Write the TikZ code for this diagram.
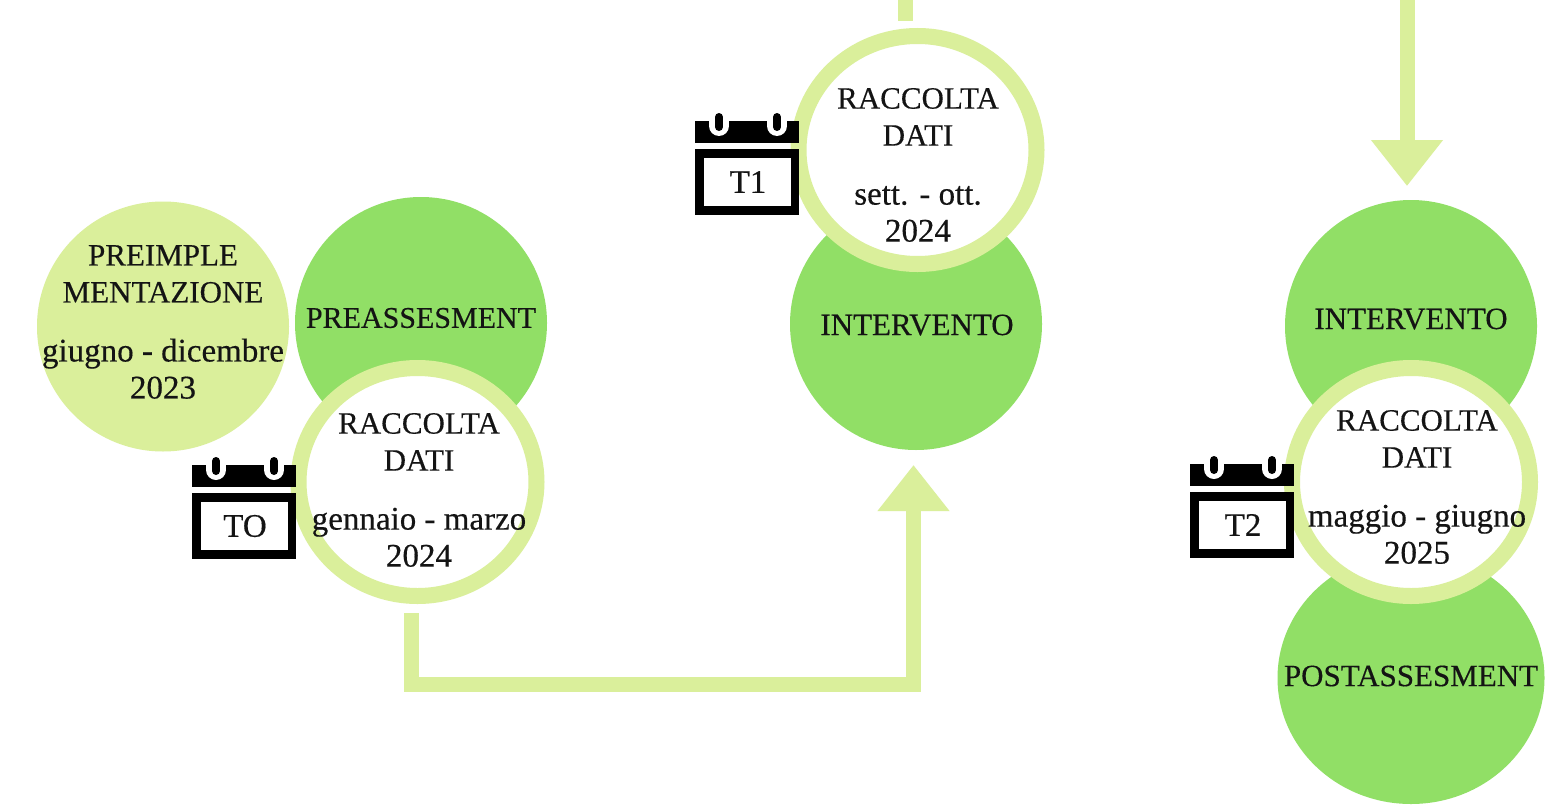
\documentclass[tikz,border=0pt]{standalone}
\usepackage{fontspec}
\setmainfont[FakeBold=0.35]{Liberation Serif}
\usetikzlibrary{shapes.geometric,arrows.meta}
\definecolor{dgreen}{HTML}{91DF66}
\definecolor{lgreen}{HTML}{DAEF9B}
\definecolor{ink}{HTML}{141414}
\newcommand{\lw}[1]{{\fontsize{33}{37}\selectfont #1}}
\tikzset{
  disc/.style={shape=ellipse,fill=dgreen,inner sep=0pt,outer sep=0pt,minimum width=#1,minimum height=252pt},
  lightdisc/.style={shape=ellipse,fill=lgreen,inner sep=0pt,outer sep=0pt,minimum width=252pt,minimum height=250pt},
  ringdisc/.style={shape=ellipse,draw=lgreen,fill=white,line width=16pt,inner sep=0pt,outer sep=0pt,minimum width=238pt,minimum height=228pt},
  lab/.style={align=center,inner sep=0pt,text=ink,font=\fontsize{31}{37}\selectfont},
  flow/.style={draw=lgreen,line width=15pt,line join=miter,line cap=butt},
  flowhead/.style={flow,-{Triangle[length=46pt,width=69pt]}},
  calicon/.pic={
    \fill[black] (0,0) rectangle (104,22);
    \fill[black] (0,28) rectangle (104,94);
    \fill[white] (9,37) rectangle (96,85);
    \foreach \px in {24,82}{
      \draw[white,line width=20pt,line cap=round] (\px,0) -- (\px,5);
      \draw[black,line width=8pt,line cap=round] (\px,-4) -- (\px,6);
    }
    \node[lab,font=\fontsize{33}{33}\selectfont] (-tag) at (53,61) {\tikzpictext};
  }
}
\begin{document}
\begin{tikzpicture}[x=1pt,y=-1pt]
\useasboundingbox[fill=white] (0,0) rectangle (1563,808);
% discs
\node[lightdisc] (pre) at (163,326.5) {};
\node[disc=252pt] (preass) at (421,323) {};
\node[disc=252pt] (int1) at (916,324) {};
\node[disc=252pt] (int2) at (1411,326) {};
\node[disc=267pt] (post) at (1411,678) {};
% rings
\node[ringdisc] (r0) at (417.5,482) {};
\node[ringdisc] (r1) at (917.5,150) {};
\node[ringdisc] (r2) at (1411,482) {};
% connectors
\coordinate (a0) at (411,613);
\coordinate (a1) at (913.5,684);
\coordinate (a2) at (913.5,465);
\coordinate (b0) at (905,0);
\coordinate (b1) at (905,21);
\coordinate (c0) at (1407,0);
\coordinate (c1) at (1407,186);
\draw[flowhead] (a0) |- (a1) -- (a2);
\draw[flow] (b0) -- (b1);
\draw[flowhead] (c0) -- (c1);
% calendars
\pic[pic text=TO] (cal0) at (192,465) {calicon};
\pic[pic text=T1] (cal1) at (695,121) {calicon};
\pic[pic text=T2] (cal2) at (1190,464) {calicon};
% labels
\node[lab] (prel) at (163,322) {PREIMPLE\\MENTAZIONE\\[22pt]\lw{giugno - dicembre}\\\lw{2023}};
\node[lab,font=\fontsize{30}{37}\selectfont] (preassl) at (421,318) {PREASSESMENT};
\node[lab] (int1l) at (917,325) {INTERVENTO};
\node[lab] (int2l) at (1411,319) {INTERVENTO};
\node[lab] (postl) at (1411,676) {POSTASSESMENT};
\node[lab] (r0l) at (419,490) {RACCOLTA\\DATI\\[22pt]\lw{gennaio - marzo}\\\lw{2024}};
\node[lab] (r1l) at (918,165) {RACCOLTA\\DATI\\[22pt]\lw{sett. - ott.}\\\lw{2024}};
\node[lab] (r2l) at (1417,487) {RACCOLTA\\DATI\\[22pt]\lw{maggio - giugno}\\\lw{2025}};
\end{tikzpicture}
\end{document}
